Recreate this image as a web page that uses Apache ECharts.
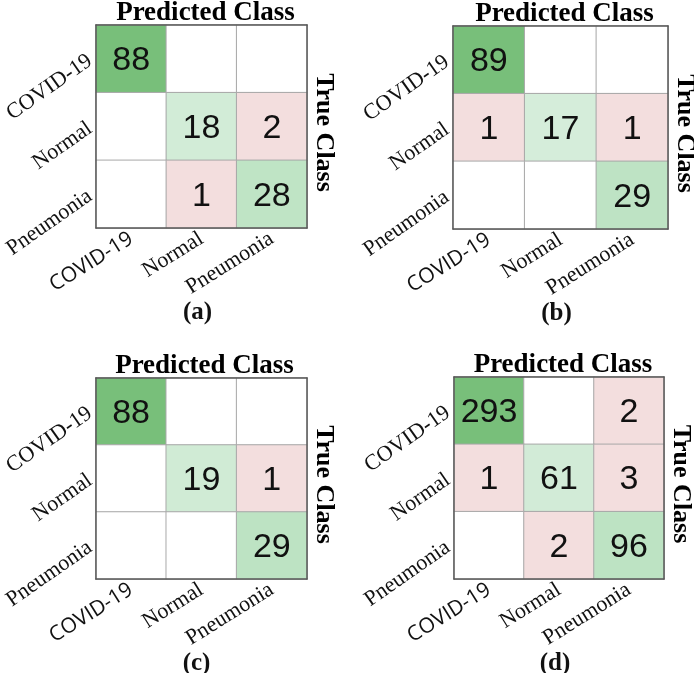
<!DOCTYPE html>
<html>
<head>
	<meta charset="utf-8">
	<script src="https://cdn.jsdelivr.net/npm/echarts@6/dist/echarts.min.js"></script>
</head>
<body style="margin:0;background:#fff;">
	<div id="main" style="width:694px;height:673px;"></div>
	<script type="text/javascript">
        // classes: rows = true class, columns = predicted class
        var classes = ['COVID-19', 'Normal', 'Pneumonia'];
        var cmA = [[88, 0, 0], [0, 18, 2], [0, 1, 28]];
        var cmB = [[89, 0, 0], [1, 17, 1], [0, 0, 29]];
        var cmC = [[88, 0, 0], [0, 19, 1], [0, 0, 29]];
        var cmD = [[293, 0, 2], [1, 61, 3], [0, 2, 96]];
        var panelNames = ['(a)', '(b)', '(c)', '(d)'];

        var matrices = [cmA, cmB, cmC, cmD];
        // grid boxes [left, top, width, height]
        var boxes = [[96, 25, 211, 203], [453, 26, 215, 203], [94, 378, 213, 201], [454, 377, 210, 202]];

        // diagonal colour scale (fraction of largest diagonal value)
        var greenStops = [[0, [255, 255, 255]], [0.2, [211, 236, 216]], [0.33, [189, 227, 195]], [1, [120, 191, 122]]];
        function greenFor(t) {
            for (var k = 1; k < greenStops.length; k++) {
                if (t <= greenStops[k][0]) {
                    var a = greenStops[k - 1], b = greenStops[k];
                    var f = (t - a[0]) / (b[0] - a[0]);
                    var c = a[1].map(function (x, j) { return Math.round(x + (b[1][j] - x) * f); });
                    return 'rgb(' + c.join(',') + ')';
                }
            }
            return 'rgb(120,191,122)';
        }
        function cellColor(v, diag, maxDiag) {
            if (!v) return '#ffffff';
            if (!diag) return '#f3dede';
            return greenFor(v / maxDiag);
        }

        var serif = 'Liberation Serif';
        var grids = [], xAxes = [], yAxes = [], series = [], graphics = [];
        var frameLine = {show: true, lineStyle: {color: '#5a5a5a', width: 1.5}};

        matrices.forEach(function (m, i) {
            var b = boxes[i];
            grids.push({left: b[0], top: b[1], width: b[2], height: b[3]});
            var maxDiag = Math.max(m[0][0], m[1][1], m[2][2]);

            xAxes.push({
                gridIndex: i, type: 'category', data: classes, position: 'bottom', z: 10,
                axisLine: frameLine, axisTick: {show: false}, splitLine: {show: false},
                axisLabel: {
                    interval: 0, rotate: 32, margin: 9, fontSize: 22, fontFamily: serif, color: '#111',
                    formatter: function (v) { return v === 'COVID-19' ? '{s|' + v + '}' : v; },
                    rich: {s: {fontFamily: 'Open Sans', fontSize: 21, color: '#111'}}
                }
            });
            xAxes.push({
                gridIndex: i, type: 'category', data: classes, position: 'top', z: 10,
                axisLine: frameLine, axisTick: {show: false}, axisLabel: {show: false}
            });
            yAxes.push({
                gridIndex: i, type: 'category', data: classes, inverse: true, position: 'left', z: 10,
                axisLine: frameLine, axisTick: {show: false}, splitLine: {show: false},
                axisLabel: {interval: 0, rotate: 35, margin: 6, fontSize: 22, fontFamily: serif, color: '#111'}
            });
            yAxes.push({
                gridIndex: i, type: 'category', data: classes, inverse: true, position: 'right', z: 10,
                axisLine: frameLine, axisTick: {show: false}, axisLabel: {show: false}
            });

            var data = [];
            m.forEach(function (row, r) {
                row.forEach(function (v, c) {
                    data.push({value: [c, r, v], itemStyle: {color: cellColor(v, r === c, maxDiag)}});
                });
            });
            series.push({
                type: 'heatmap', xAxisIndex: i * 2, yAxisIndex: i * 2, data: data,
                itemStyle: {borderColor: '#a8a8a8', borderWidth: 1},
                emphasis: {disabled: true},
                label: {
                    show: true, fontSize: 34, fontFamily: 'Liberation Sans', color: '#111', offset: [0, 2],
                    formatter: function (p) { return p.value[2] ? String(p.value[2]) : ''; }
                }
            });

            var cx = b[0] + b[2] / 2 + 4;
            graphics.push({
                type: 'text', x: cx, y: b[1] - 12,
                style: {text: 'Predicted Class', font: 'bold 27px "Liberation Serif"', fill: '#000', textAlign: 'center', textVerticalAlign: 'middle'}
            });
            graphics.push({
                type: 'text', x: b[0] + b[2] + 17, y: b[1] + b[3] / 2 + 6, rotation: -Math.PI / 2,
                style: {text: 'True Class', font: 'bold 26px "Liberation Serif"', fill: '#000', textAlign: 'center', textVerticalAlign: 'middle'}
            });
            graphics.push({
                type: 'text', x: b[0] + b[2] / 2 - 4, y: b[1] + b[3] + 85,
                style: {text: panelNames[i], font: 'bold 25px "Liberation Serif"', fill: '#111', textAlign: 'center', textVerticalAlign: 'middle'}
            });
        });

        var myChart = echarts.init(document.getElementById('main'));
        myChart.setOption({
            animation: false,
            grid: grids,
            xAxis: xAxes,
            yAxis: yAxes,
            series: series,
            graphic: graphics
        });
    </script>
</body>
</html>
